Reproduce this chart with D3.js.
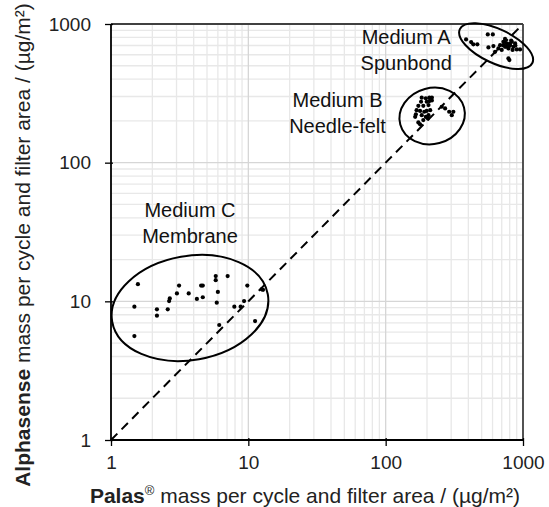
<!DOCTYPE html>
<html>
<head>
<meta charset="utf-8">
<script src="https://cdn.jsdelivr.net/npm/d3@7"></script>
<style>
  html, body { margin: 0; padding: 0; background: #fff; }
  svg { display: block; font-family: "Liberation Sans", Arial, sans-serif; }
</style>
</head>
<body>
<svg id="chart" width="549" height="507"></svg>
<script>
// ---- data ----
const tickValues = [1, 10, 100, 1000];
const tickLabels = ["1", "10", "100", "1000"];

const mediumA_x = [385, 419, 435, 465, 554, 603, 560, 609, 626, 662, 681, 720, 741, 762, 783, 805, 829, 851, 876, 901, 952, 783, 796, 720, 760, 800, 840, 700, 880, 820, 740, 790];
const mediumA_y = [774, 741, 713, 713, 841, 841, 678, 693, 630, 667, 704, 744, 685, 724, 667, 704, 744, 685, 724, 656, 656, 565, 549, 700, 690, 720, 650, 650, 700, 760, 780, 690];

const mediumB_x = [183, 196, 208, 217, 181, 199, 208, 217, 173, 188, 205, 168, 178, 191, 199, 211, 166, 183, 196, 203, 188, 173, 178, 256, 271, 290, 311, 303, 205, 164];
const mediumB_y = [294, 291, 294, 295, 275, 275, 278, 281, 257, 257, 260, 239, 236, 233, 236, 239, 223, 220, 214, 208, 203, 195, 189, 253, 246, 233, 233, 220, 220, 214];

const mediumC_x = [1.48, 1.57, 1.48, 2.16, 2.16, 2.59, 2.65, 2.68, 3.02, 3.13, 3.68, 4.22, 4.53, 4.66, 4.66, 5.79, 5.79, 5.89, 6.0, 6.14, 7.07, 7.91, 8.79, 9.31, 9.83, 11.2, 12.5, 12.8];
const mediumC_y = [9.15, 13.3, 5.62, 8.76, 7.88, 8.76, 10.05, 10.5, 11.4, 13.0, 11.4, 10.4, 13.0, 13.0, 10.7, 14.2, 15.2, 9.78, 11.7, 6.75, 15.2, 9.15, 9.15, 10.05, 13.0, 7.21, 12.2, 12.1];

const groupNames = ["Medium A", "Medium B", "Medium C"];
const groupMaterials = ["Spunbond", "Needle-felt", "Membrane"];
const ellipseCenterX = [637, 218, 3.76];
const ellipseCenterY = [693, 217, 8.95];
const labelAnchorX = [141, 44.6, 3.76];
const labelAnchorY = [716, 252, 40.5];

const identityLine = [1, 935];

// ---- layout ----
const svg = d3.select("#chart");
const L = 111, R = 523, T = 24, B = 440;
const x = d3.scaleLog().domain([1, 1000]).range([L, R]);
const y = d3.scaleLog().domain([1, 1000]).range([B, T]);

// grid
const minor = [];
for (let d = 1; d < 1000; d *= 10) for (let k = 2; k <= 9; k++) minor.push(d * k);
const g = svg.append("g");
g.selectAll(".mx").data(minor).join("line")
  .attr("x1", d => x(d)).attr("x2", d => x(d)).attr("y1", T).attr("y2", B)
  .attr("stroke", "#e8e8e8").attr("stroke-width", 1.3);
g.selectAll(".my").data(minor).join("line")
  .attr("y1", d => y(d)).attr("y2", d => y(d)).attr("x1", L).attr("x2", R)
  .attr("stroke", "#e8e8e8").attr("stroke-width", 1.3);
g.selectAll(".Mx").data(tickValues.slice(1, 3)).join("line")
  .attr("x1", d => x(d)).attr("x2", d => x(d)).attr("y1", T).attr("y2", B)
  .attr("stroke", "#d6d6d6").attr("stroke-width", 1.3);
g.selectAll(".My").data(tickValues.slice(1, 3)).join("line")
  .attr("y1", d => y(d)).attr("y2", d => y(d)).attr("x1", L).attr("x2", R)
  .attr("stroke", "#d6d6d6").attr("stroke-width", 1.3);

// frame top/right
svg.append("line").attr("x1", L).attr("x2", R).attr("y1", T).attr("y2", T)
  .attr("stroke", "#404040").attr("stroke-width", 1.8);
svg.append("line").attr("x1", R).attr("x2", R).attr("y1", T).attr("y2", B)
  .attr("stroke", "#404040").attr("stroke-width", 1.8);

// identity line
svg.append("line")
  .attr("x1", x(identityLine[0])).attr("y1", y(identityLine[0]))
  .attr("x2", x(identityLine[1])).attr("y2", y(identityLine[1]))
  .attr("stroke", "#000").attr("stroke-width", 2).attr("stroke-dasharray", "9,6");

// axes
const xAxis = d3.axisBottom(x).tickValues(tickValues).tickFormat((d, i) => tickLabels[i]).tickSize(6).tickPadding(10);
const yAxis = d3.axisLeft(y).tickValues(tickValues).tickFormat((d, i) => tickLabels[i]).tickSize(6).tickPadding(14);
const gx = svg.append("g").attr("transform", `translate(0,${B})`).call(xAxis);
const gy = svg.append("g").attr("transform", `translate(${L},0)`).call(yAxis);
[gx, gy].forEach(a => {
  a.select(".domain").attr("stroke", "#000").attr("stroke-width", 1.8);
  a.selectAll(".tick line").attr("stroke", "#000").attr("stroke-width", 1.3);
  a.selectAll(".tick text").attr("font-size", 19).attr("fill", "#222")
    .attr("font-family", "Liberation Sans, Arial, sans-serif");
});
gx.select(".domain").attr("d", `M${L},0H${R}`);
gy.select(".domain").attr("d", `M0,${B}V${T}`);
gx.selectAll(".tick line").attr("y1", -2);
gy.selectAll(".tick line").attr("x1", 2);

// ellipses
const ellipseStyle = [
  { rx: 40, ry: 17, rot: 25 },
  { rx: 33, ry: 28, rot: -15 },
  { rx: 79, ry: 52, rot: -10 }
];
groupNames.forEach((n, i) => {
  const cx = x(ellipseCenterX[i]), cy = y(ellipseCenterY[i]);
  svg.append("ellipse")
    .attr("cx", 0).attr("cy", 0)
    .attr("rx", ellipseStyle[i].rx).attr("ry", ellipseStyle[i].ry)
    .attr("transform", `translate(${cx},${cy}) rotate(${ellipseStyle[i].rot})`)
    .attr("fill", "none").attr("stroke", "#000").attr("stroke-width", 2);
});

// points
function drawPts(xs, ys) {
  svg.append("g").selectAll("circle").data(xs.map((v, i) => [v, ys[i]])).join("circle")
    .attr("cx", d => x(d[0])).attr("cy", d => y(d[1])).attr("r", 2.1).attr("fill", "#000");
}
drawPts(mediumA_x, mediumA_y);
drawPts(mediumB_x, mediumB_y);
drawPts(mediumC_x, mediumC_y);

// group labels
groupNames.forEach((n, i) => {
  const t = svg.append("text").attr("text-anchor", "middle").attr("font-size", 20).attr("fill", "#111")
    .attr("x", x(labelAnchorX[i])).attr("y", y(labelAnchorY[i]));
  t.append("tspan").attr("x", x(labelAnchorX[i])).text(n);
  t.append("tspan").attr("x", x(labelAnchorX[i])).attr("dy", 25.5).text(groupMaterials[i]);
});

// axis titles
const xt = svg.append("text").attr("x", 305).attr("y", 503).attr("text-anchor", "middle")
  .attr("font-size", 21).attr("fill", "#222");
xt.append("tspan").attr("font-weight", "bold").text("Palas");
xt.append("tspan").attr("font-size", 13).attr("dy", -8).text("®");
xt.append("tspan").attr("dy", 8).text(" mass per cycle and filter area / (µg/m²)");

const yt = svg.append("text").attr("transform", `translate(30,245) rotate(-90)`)
  .attr("text-anchor", "middle").attr("font-size", 21).attr("fill", "#222");
yt.append("tspan").attr("font-weight", "bold").text("Alphasense");
yt.append("tspan").text(" mass per cycle and filter area / (µg/m²)");
</script>
</body>
</html>
